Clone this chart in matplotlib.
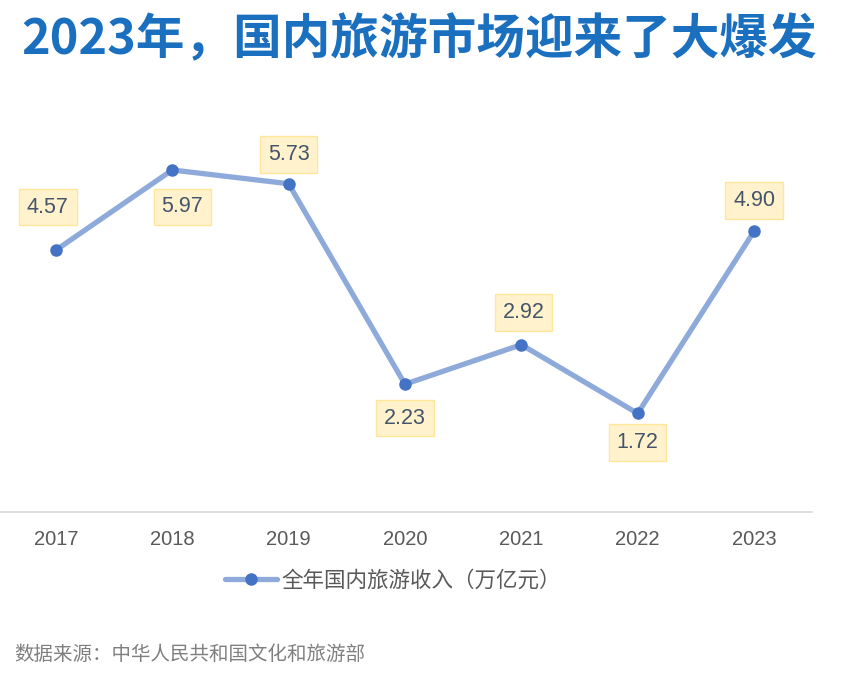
import matplotlib
matplotlib.use("Agg")
import matplotlib.pyplot as plt

years = ["2017", "2018", "2019", "2020", "2021", "2022", "2023"]
revenue = [4.57, 5.97, 5.73, 2.23, 2.92, 1.72, 4.90]
series_name = "全年国内旅游收入（万亿元）"
title = "2023年，国内旅游市场迎来了大爆发"
source = "数据来源：中华人民共和国文化和旅游部"

# label offsets from each point, in pixels
label_offsets = [(-8, 43), (10, -37), (0, 29), (0, -34), (2, 32), (0, -29), (0, 31)]

plt.rcParams["font.family"] = ["Liberation Sans", "Noto Sans CJK SC", "DejaVu Sans"]

fig = plt.figure(figsize=(8.65, 6.85), dpi=100)
ax = fig.add_axes([0.0, 0.2526, 0.939, 0.5854])

x = list(range(len(years)))
ax.plot(x, revenue, color="#8eaadb", lw=3.8, solid_capstyle="round",
        marker="o", ms=8, mfc="#4472c4", mec="#4472c4", label=series_name, zorder=3)

for xi, v, (dx, dy) in zip(x, revenue, label_offsets):
    ax.annotate(f"{v:.2f}", (xi, v), xytext=(dx, dy), textcoords="offset pixels",
                ha="center", va="center", fontsize=15.5, color="#44546a",
                bbox=dict(boxstyle="square,pad=0.36", fc="#fff2cc", ec="#ffe699", lw=1))

ax.set_xlim(-0.48, 6.5)
ax.set_ylim(0, 7)
ax.set_xticks(x)
ax.set_xticklabels(years, fontsize=14.5, color="#595959")
ax.set_yticks([])
ax.tick_params(axis="x", length=0, pad=13)
for s in ["top", "right", "left"]:
    ax.spines[s].set_visible(False)
ax.spines["bottom"].set_color("#d9d9d9")
ax.spines["bottom"].set_linewidth(1.2)

leg = fig.legend(loc="center", bbox_to_anchor=(393 / 865, 1 - 581 / 685), frameon=False,
                 fontsize=15.5, handlelength=2.4, handletextpad=0.2)
for t in leg.get_texts():
    t.set_color("#595959")

fig.text(419 / 865, 1 - 40 / 685, title, ha="center", va="center", fontsize=35,
         fontweight="bold", color="#1b6fbf", family=["Noto Sans CJK SC", "DejaVu Sans"])
fig.text(14 / 865, 1 - 655 / 685, source, ha="left", va="center", fontsize=14,
         color="#7f7f7f")

fig.savefig("out.png", dpi=100)
